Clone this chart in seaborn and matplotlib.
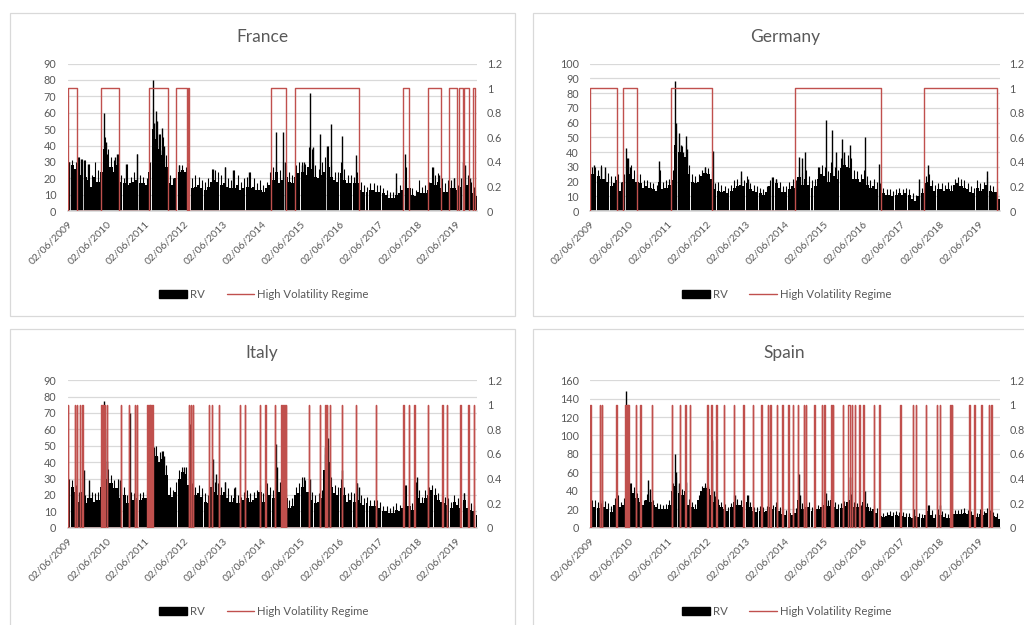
import numpy as np
import pandas as pd
import matplotlib
matplotlib.use("Agg")
import matplotlib.pyplot as plt
import matplotlib.dates as mdates
import seaborn as sns
from matplotlib.patches import Patch, Rectangle
from matplotlib.lines import Line2D

sns.set_theme(style="white")
plt.rcParams["font.family"] = ["Lato", "DejaVu Sans"]

# ---------------------------------------------------------------- data
months = pd.date_range("2009-06-01", "2019-12-01", freq="MS")
tick_years = list(range(2009, 2020))
tick_labels = [f"02/06/{y}" for y in tick_years]

# typical monthly realised volatility (Jun 2009 .. Dec 2019)
rv_france = [27, 28, 26, 25, 22, 21, 19,
             15, 21, 18, 24, 38, 32, 27, 24, 28, 18, 17, 16,
             17, 18, 19, 17, 17, 16, 24, 50, 44, 38, 34, 27,
             17, 16, 20, 24, 25, 24, 19, 14, 15, 16, 14, 13,
             15, 18, 19, 18, 16, 17, 15, 14, 14, 16, 13, 14,
             15, 14, 15, 13, 13, 12, 14, 16, 19, 24, 17, 19,
             21, 18, 17, 21, 23, 24, 22, 27, 26, 21, 20, 22,
             24, 27, 21, 19, 18, 23, 19, 17, 17, 17, 17, 13,
             12, 12, 13, 13, 12, 12, 11, 10, 8, 8, 10, 11,
             13, 20, 14, 10, 9, 12, 11, 11, 13, 17, 16, 18,
             14, 12, 12, 14, 14, 13, 15, 20, 16, 13, 11, 9]
rv_germany = [25, 25, 24, 22, 22, 20, 17,
              19, 21, 14, 20, 32, 25, 22, 20, 19, 16, 17, 16,
              15, 14, 20, 15, 16, 18, 21, 45, 40, 35, 37, 25,
              20, 19, 20, 24, 26, 25, 22, 15, 14, 13, 14, 12,
              14, 16, 17, 18, 17, 19, 15, 14, 13, 12, 11, 13,
              17, 18, 19, 16, 13, 13, 15, 17, 16, 23, 18, 22,
              18, 16, 17, 22, 25, 24, 20, 26, 24, 22, 29, 31,
              30, 29, 22, 22, 20, 22, 18, 16, 17, 15, 14, 12,
              11, 11, 10, 11, 12, 11, 12, 11, 8, 7, 10, 12,
              19, 20, 17, 14, 15, 15, 14, 15, 14, 18, 19, 17,
              16, 15, 13, 12, 16, 14, 15, 18, 14, 13, 13, 8]
rv_italy = [26, 25, 22, 16, 22, 15, 18,
            18, 16, 17, 25, 45, 30, 27, 24, 24, 18, 20, 15,
            18, 17, 18, 17, 18, 18, 28, 40, 44, 40, 42, 32,
            20, 19, 22, 30, 34, 33, 26, 22, 20, 21, 19, 16,
            15, 25, 22, 20, 20, 22, 18, 16, 18, 15, 15, 17,
            18, 16, 17, 18, 22, 16, 23, 20, 18, 30, 22, 28,
            18, 12, 13, 20, 21, 25, 22, 22, 17, 15, 16, 18,
            35, 40, 25, 21, 20, 24, 20, 16, 17, 16, 17, 15,
            14, 15, 13, 13, 13, 12, 10, 10, 9, 9, 11, 10,
            12, 18, 13, 11, 22, 18, 15, 18, 20, 23, 20, 17,
            16, 15, 14, 12, 16, 14, 12, 17, 12, 11, 10, 8]
rv_spain = [22, 23, 21, 20, 22, 20, 17,
            25, 30, 22, 25, 45, 42, 38, 32, 28, 25, 30, 28,
            25, 22, 20, 20, 20, 25, 40, 45, 38, 35, 40, 25,
            22, 20, 30, 40, 43, 42, 35, 28, 25, 22, 20, 18,
            22, 28, 25, 25, 22, 28, 22, 18, 17, 18, 17, 18,
            22, 20, 22, 18, 15, 14, 16, 14, 16, 30, 20, 22,
            22, 18, 20, 20, 22, 25, 24, 30, 22, 20, 21, 24,
            28, 30, 22, 22, 20, 28, 22, 18, 20, 16, 13, 12,
            13, 14, 13, 14, 13, 13, 12, 12, 11, 13, 12, 11,
            14, 18, 14, 11, 14, 14, 12, 11, 13, 15, 15, 15,
            16, 15, 14, 14, 12, 15, 14, 16, 14, 13, 12, 10]

# highest daily realised volatility in each month
peak_france = [30, 31, 30, 33, 32, 31, 29,
               22, 30, 25, 30, 45, 38, 33, 31, 35, 22, 20, 29,
               21, 24, 35, 22, 21, 20, 30, 62, 55, 47, 45, 34,
               22, 20, 26, 28, 28, 27, 26, 20, 22, 21, 19, 18,
               20, 26, 25, 24, 22, 27, 20, 19, 25, 22, 18, 20,
               21, 24, 20, 17, 19, 16, 18, 24, 27, 30, 25, 30,
               28, 24, 22, 28, 30, 30, 29, 39, 38, 28, 26, 30,
               33, 40, 28, 24, 24, 30, 26, 22, 22, 21, 24, 18,
               16, 15, 17, 17, 16, 16, 14, 13, 12, 12, 14, 16,
               19, 27, 19, 14, 13, 19, 15, 16, 18, 27, 22, 23,
               20, 17, 19, 19, 20, 16, 20, 28, 22, 18, 15, 13]
peak_germany = [30, 30, 28, 31, 27, 26, 24,
                24, 25, 20, 25, 36, 31, 28, 25, 25, 21, 21, 20,
                19, 18, 28, 20, 21, 22, 28, 55, 50, 44, 45, 31,
                25, 24, 25, 28, 30, 29, 27, 19, 20, 18, 17, 16,
                18, 21, 22, 23, 21, 24, 19, 18, 17, 16, 15, 17,
                21, 23, 22, 20, 17, 17, 20, 22, 21, 30, 26, 28,
                24, 21, 22, 30, 31, 30, 27, 33, 30, 28, 36, 35,
                38, 36, 28, 27, 25, 28, 24, 21, 22, 20, 19, 16,
                15, 15, 14, 15, 16, 15, 16, 15, 12, 11, 15, 16,
                24, 25, 21, 18, 19, 19, 18, 20, 18, 22, 23, 22,
                21, 19, 17, 16, 21, 19, 20, 23, 18, 17, 16, 12]
peak_italy = [30, 29, 26, 22, 28, 20, 23,
              22, 21, 22, 32, 55, 36, 32, 29, 30, 22, 25, 20,
              22, 21, 22, 21, 22, 23, 38, 47, 50, 46, 47, 38,
              25, 23, 28, 35, 37, 37, 32, 27, 25, 26, 24, 21,
              20, 32, 28, 27, 25, 28, 24, 20, 24, 20, 19, 22,
              23, 21, 22, 23, 26, 21, 27, 25, 23, 37, 28, 33,
              24, 17, 18, 25, 27, 31, 29, 30, 22, 20, 21, 23,
              45, 49, 31, 26, 25, 30, 25, 21, 22, 21, 27, 20,
              18, 19, 17, 17, 17, 16, 13, 13, 12, 13, 15, 14,
              16, 26, 17, 15, 28, 23, 19, 23, 25, 26, 24, 21,
              21, 19, 18, 16, 20, 18, 16, 21, 17, 15, 14, 11]
peak_spain = [30, 30, 28, 27, 29, 27, 24,
              32, 35, 28, 32, 60, 48, 44, 38, 34, 30, 37, 35,
              30, 27, 26, 25, 26, 30, 48, 55, 46, 42, 48, 31,
              28, 26, 36, 45, 48, 47, 42, 34, 31, 28, 26, 23,
              27, 35, 31, 30, 27, 35, 28, 23, 22, 24, 22, 24,
              27, 25, 28, 23, 20, 19, 21, 19, 21, 37, 27, 28,
              28, 23, 26, 25, 28, 32, 30, 36, 28, 26, 27, 29,
              35, 37, 28, 27, 25, 34, 27, 23, 25, 21, 17, 16,
              17, 18, 17, 18, 17, 17, 16, 16, 15, 20, 16, 15,
              18, 25, 19, 15, 20, 18, 16, 15, 17, 19, 19, 20,
              21, 19, 18, 18, 16, 20, 18, 21, 19, 17, 16, 14]

# single-day volatility spikes
spike_dates_france = ["2009-06-20", "2009-09-05", "2009-10-10", "2009-11-05", "2009-12-15",
                      "2010-05-07", "2010-05-25", "2010-06-10", "2010-08-20", "2010-09-10",
                      "2010-12-05", "2011-03-15", "2011-08-10", "2011-08-20", "2011-09-12",
                      "2011-09-25", "2011-10-05", "2011-10-20", "2011-11-10", "2011-11-25",
                      "2012-04-15", "2012-07-08", "2013-02-25", "2013-06-20", "2013-09-01",
                      "2014-02-03", "2014-10-15", "2014-12-15", "2015-01-05", "2015-06-10",
                      "2015-07-01", "2015-08-24", "2015-09-29", "2015-11-29", "2016-02-02",
                      "2016-03-08", "2016-06-24", "2016-11-02", "2017-11-15", "2018-02-06",
                      "2018-10-25", "2018-12-20", "2019-05-15", "2019-08-06", "2019-08-20",
                      "2019-10-10"]
spike_vals_france = [30, 33, 32, 31, 29,
                     60, 42, 35, 33, 35,
                     29, 35, 80, 54, 61,
                     55, 47, 37, 51, 40,
                     28, 43, 26, 27, 25,
                     24, 48, 48, 30, 28,
                     30, 72, 39, 47, 40,
                     53, 46, 34, 23, 35,
                     27, 22, 20, 30, 28,
                     20]
spike_dates_germany = ["2009-07-10", "2009-09-15", "2009-10-20", "2010-05-07", "2010-05-25",
                       "2010-06-15", "2011-03-15", "2011-08-10", "2011-08-20", "2011-09-12",
                       "2011-10-05", "2011-10-20", "2011-11-15", "2011-11-30", "2012-05-20",
                       "2012-07-25", "2013-04-20", "2013-06-20", "2014-02-03", "2014-03-15",
                       "2014-10-15", "2014-11-10", "2014-12-10", "2015-04-20", "2015-06-29",
                       "2015-08-24", "2015-10-01", "2015-11-20", "2015-12-15", "2016-02-09",
                       "2016-06-24", "2016-11-09", "2017-11-20", "2018-02-06", "2019-08-13"]
spike_vals_germany = [31, 30, 30, 43, 36,
                      30, 34, 88, 60, 53,
                      45, 40, 51, 42, 30,
                      41, 27, 22, 23, 22,
                      37, 36, 40, 30, 62,
                      55, 40, 49, 40, 45,
                      50, 32, 22, 31, 27]
spike_dates_italy = ["2009-11-02", "2009-12-20", "2010-05-07", "2010-05-20", "2010-06-05",
                     "2010-10-05", "2011-01-08", "2011-08-08", "2011-08-25", "2011-09-20",
                     "2011-11-09", "2011-11-25", "2012-06-05", "2012-07-24", "2013-02-26",
                     "2013-04-01", "2013-06-20", "2013-09-20", "2014-10-15", "2014-10-25",
                     "2015-01-06", "2015-06-29", "2015-08-24", "2016-01-20", "2016-02-11",
                     "2016-06-24", "2016-11-09", "2016-12-05", "2018-02-06", "2018-05-29",
                     "2018-10-10", "2019-08-10"]
spike_vals_italy = [35, 29, 77, 60, 41,
                    29, 70, 52, 49, 44,
                    47, 44, 37, 63, 42,
                    33, 28, 25, 51, 37,
                    48, 31, 30, 49, 55,
                    35, 27, 25, 26, 31,
                    23, 21]
spike_dates_spain = ["2009-09-25", "2010-02-05", "2010-05-08", "2010-05-20", "2010-06-10",
                     "2010-12-01", "2010-12-15", "2011-08-08", "2011-08-20", "2011-09-10",
                     "2011-11-15", "2012-05-15", "2012-06-10", "2012-07-24", "2012-08-05",
                     "2013-02-25", "2013-06-20", "2014-10-15", "2014-10-25", "2015-06-29",
                     "2015-08-24", "2016-02-09", "2016-06-24", "2017-10-02", "2018-02-06",
                     "2018-05-29"]
spike_vals_spain = [30, 35, 148, 110, 48,
                    52, 42, 80, 60, 48,
                    50, 45, 44, 95, 40,
                    35, 35, 58, 35, 38,
                    38, 55, 40, 20, 25,
                    25]

# high volatility regime spells: start dates and lengths in days
regime_start_france = ["2009-06-01", "2010-04-11", "2011-07-08", "2012-03-14", "2012-07-12",
                       "2014-08-24", "2015-04-05", "2018-01-17", "2018-09-14", "2019-03-26",
                       "2019-06-29", "2019-08-17", "2019-11-08"]
regime_days_france = [93, 174, 181, 110, 8,
                      143, 601, 56, 116, 71,
                      40, 43, 18]
regime_start_germany = ["2009-06-01", "2010-04-05", "2011-07-02", "2014-09-05", "2018-01-02"]
regime_days_germany = [255, 131, 384, 807, 687]
regime_start_italy = ["2009-06-01", "2009-08-09", "2009-08-31", "2009-09-26", "2009-10-17",
                      "2010-04-17", "2010-04-20", "2010-04-23", "2010-04-27", "2010-04-30",
                      "2010-05-04", "2010-05-07", "2010-05-11", "2010-05-14",
                      "2010-06-08", "2010-10-14", "2011-01-02", "2011-02-26", "2011-03-17",
                      "2011-06-20", "2011-06-23", "2011-06-27", "2011-06-30", "2011-07-04",
                      "2011-07-07", "2011-07-11", "2011-07-14", "2011-07-18", "2011-07-21",
                      "2011-07-25", "2011-07-28",
                      "2011-08-08", "2012-07-17", "2012-08-05",
                      "2012-08-20", "2013-01-23", "2013-02-14", "2013-04-26", "2013-11-08",
                      "2013-12-26", "2014-05-14", "2014-07-05", "2014-10-02", "2014-12-02",
                      "2014-12-20", "2015-01-05", "2015-01-14", "2015-08-20", "2015-11-29",
                      "2016-01-20", "2016-02-05", "2016-03-02", "2016-06-20", "2016-11-02",
                      "2017-05-05", "2018-01-14", "2018-03-11", "2018-04-29", "2018-09-11",
                      "2019-01-23", "2019-03-08", "2019-07-11", "2019-09-23", "2019-11-14"]
regime_days_italy = [3, 3, 3, 3, 6,
                     2, 2, 2, 2, 2,
                     2, 2, 2, 3,
                     3, 3, 3, 3, 3,
                     2, 2, 2, 2, 2,
                     2, 2, 2, 2, 2,
                     2, 2,
                     3, 3, 3,
                     3, 3, 3, 3, 3,
                     3, 3, 3, 3, 3,
                     3, 3, 3, 3, 3,
                     3, 3, 3, 3, 3,
                     3, 12, 3, 12, 3,
                     3, 3, 3, 3, 3]
regime_start_spain = ["2009-06-01", "2009-08-29", "2009-09-20", "2010-02-02",
                      "2010-04-26", "2010-04-29", "2010-05-03", "2010-05-06", "2010-05-10",
                      "2010-05-13", "2010-05-17", "2010-05-20", "2010-05-24", "2010-05-27",
                      "2010-05-31", "2010-06-03",
                      "2010-08-02", "2010-09-17", "2011-01-05", "2011-07-08", "2011-09-20",
                      "2011-11-14", "2011-12-23", "2012-06-05", "2012-07-11", "2012-08-29",
                      "2012-11-08", "2013-02-11", "2013-05-11", "2013-08-08", "2013-10-26",
                      "2013-12-26", "2014-01-20", "2014-03-23", "2014-05-11", "2014-07-02",
                      "2014-08-17", "2014-10-05", "2014-11-29", "2014-12-20", "2015-03-08",
                      "2015-05-17", "2015-06-11", "2015-08-14", "2015-08-29", "2015-12-02",
                      "2016-01-17", "2016-02-23", "2016-03-20", "2016-05-05", "2016-06-11",
                      "2016-09-17", "2016-11-02", "2017-05-26", "2017-09-20", "2017-10-14",
                      "2018-01-17", "2018-05-02", "2018-06-02", "2018-09-05", "2018-09-23",
                      "2019-03-05", "2019-04-20", "2019-06-23", "2019-09-02", "2019-09-26"]
regime_days_spain = [3, 3, 3, 3,
                     2, 2, 2, 2, 2,
                     2, 2, 2, 2, 2,
                     2, 3,
                     3, 3, 3, 3, 3,
                     3, 3, 3, 11, 3,
                     3, 3, 3, 3, 3,
                     3, 3, 3, 3, 15,
                     3, 3, 3, 3, 3,
                     3, 3, 3, 3, 3,
                     16, 3, 3, 3, 3,
                     3, 15, 3, 3, 3,
                     3, 3, 3, 3, 3,
                     3, 3, 9, 3, 3]

countries = ["France", "Germany", "Italy", "Spain"]
rv_levels = [rv_france, rv_germany, rv_italy, rv_spain]
rv_peaks = [peak_france, peak_germany, peak_italy, peak_spain]
spike_dates = [spike_dates_france, spike_dates_germany, spike_dates_italy, spike_dates_spain]
spike_vals = [spike_vals_france, spike_vals_germany, spike_vals_italy, spike_vals_spain]
regime_starts = [regime_start_france, regime_start_germany, regime_start_italy, regime_start_spain]
regime_days = [regime_days_france, regime_days_germany, regime_days_italy, regime_days_spain]
left_max = [90, 100, 90, 160]
left_step = [10, 10, 10, 20]

# ---------------------------------------------------------------- layout (pixels)
W, H = 1024, 625
panel_origin = [(10, 12.7), (532.7, 12.7), (10, 329.3), (532.7, 329.3)]
panel_w, panel_h = 505, 303
plot_l, plot_r, plot_t, plot_b = 57.5, 467.0, 50.8, 198.5

TEXT = "#595959"
GRID = "#d9d9d9"
RED = "#c0504d"
TICK_FS = 7.8

x_start = mdates.date2num(pd.Timestamp("2009-06-02"))
x_end = mdates.date2num(pd.Timestamp("2019-12-14"))
bar_left = mdates.date2num(months)
bar_width = mdates.date2num(months + pd.offsets.MonthBegin(1)) - bar_left
peak_x = bar_left + 0.5 * bar_width
ticks = mdates.date2num(pd.to_datetime([f"{y}-06-02" for y in tick_years]))

fig = plt.figure(figsize=(W / 100, H / 100), dpi=100)
fig.patch.set_facecolor("white")

for i, name in enumerate(countries):
    ox, oy = panel_origin[i]
    fig.add_artist(Rectangle((ox / W, 1 - (oy + panel_h) / H), panel_w / W, panel_h / H,
                             transform=fig.transFigure, fill=False, edgecolor=GRID, lw=0.9))
    ax = fig.add_axes([(ox + plot_l) / W, 1 - (oy + plot_b) / H,
                       (plot_r - plot_l) / W, (plot_b - plot_t) / H])
    ax.set_facecolor("none")

    # realised volatility bars
    ax.bar(bar_left, rv_levels[i], width=0.94 * bar_width, align="edge", color="black",
           linewidth=0, zorder=2)
    ax.vlines(peak_x, 0, rv_peaks[i], color="black", lw=0.8, zorder=2)
    sd = mdates.date2num(pd.to_datetime(spike_dates[i]))
    ax.vlines(sd, 0, spike_vals[i], color="black", lw=1.0, zorder=2)

    ax.set_xlim(x_start, x_end)
    ax.set_ylim(0, left_max[i])
    ax.set_yticks(np.arange(0, left_max[i] + 1, left_step[i]))
    ax.yaxis.grid(True, color=GRID, lw=0.9)
    ax.xaxis.grid(False)
    ax.set_axisbelow(True)
    for s in ["top", "left", "right"]:
        ax.spines[s].set_visible(False)
    ax.spines["bottom"].set_color(GRID)
    ax.set_xticks(ticks)
    ax.set_xticklabels(tick_labels, rotation=45, ha="right", va="top",
                       rotation_mode="anchor", fontsize=7.5, color=TEXT)
    ax.tick_params(axis="x", length=3, color="#bfbfbf", pad=3)
    ax.tick_params(axis="y", length=0, pad=8, labelsize=TICK_FS, labelcolor=TEXT)

    # high volatility regime indicator on the secondary axis
    xs, ys = [x_start], [0.0]
    state = 0.0
    for st, nd in zip(regime_starts[i], regime_days[i]):
        s = max(mdates.date2num(pd.Timestamp(st)), x_start)
        e = s + nd
        xs += [s, s, e, e]
        ys += [state, 1.0, 1.0, 0.0]
    xs.append(x_end)
    ys.append(0.0)
    ax2 = ax.twinx()
    sns.lineplot(x=xs, y=ys, ax=ax2, color=RED, lw=1.0, estimator=None,
                 sort=False, legend=False)
    ax2.set_ylim(0, 1.2)
    ax2.set_yticks([0, 0.2, 0.4, 0.6, 0.8, 1.0, 1.2])
    ax2.set_yticklabels(["0", "0.2", "0.4", "0.6", "0.8", "1", "1.2"])
    ax2.tick_params(axis="y", length=0, pad=7, labelsize=TICK_FS, labelcolor=TEXT)
    ax2.set_xlim(x_start, x_end)
    for s in ax2.spines.values():
        s.set_visible(False)
    ax2.set_ylabel("")
    ax2.set_xlabel("")

    # title and legend
    fig.text((ox + 252) / W, 1 - (oy + 24) / H, name, ha="center", va="center",
             fontsize=12.5, color=TEXT)
    handles = [Patch(facecolor="black", edgecolor="black"),
               Line2D([0], [0], color=RED, lw=1.0)]
    leg = ax.legend(handles, ["RV", "High Volatility Regime"], loc="center",
                    bbox_to_anchor=((254 - plot_l) / (plot_r - plot_l),
                                    -(282 - plot_b) / (plot_b - plot_t)),
                    ncol=2, frameon=False, fontsize=8.2, handlelength=2.45,
                    handleheight=0.75, handletextpad=0.25, columnspacing=1.9)
    for t in leg.get_texts():
        t.set_color(TEXT)

fig.savefig("out.png", dpi=100, facecolor="white")
